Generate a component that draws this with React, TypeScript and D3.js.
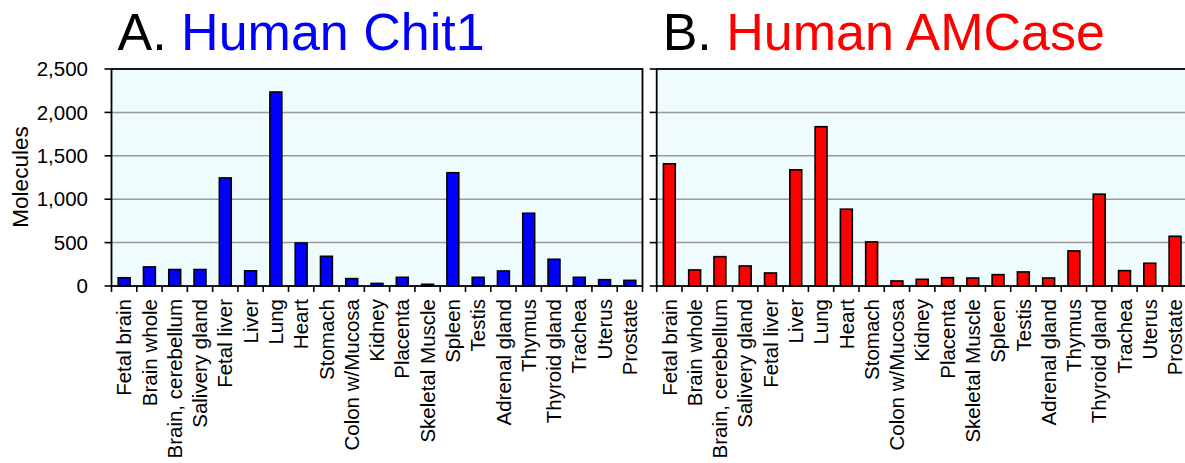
import React from "react";
import * as d3 from "d3";

const tissues = [
  "Fetal brain", "Brain whole", "Brain, cerebellum", "Salivery gland", "Fetal liver",
  "Liver", "Lung", "Heart", "Stomach", "Colon w/Mucosa", "Kidney", "Placenta",
  "Skeletal Muscle", "Spleen", "Testis", "Adrenal gland", "Thymus", "Thyroid gland",
  "Trachea", "Uterus", "Prostate",
];
const chit1Values = [95, 220, 190, 190, 1245, 175, 2235, 495, 342, 85, 30, 100, 20, 1305, 100, 173, 838, 308, 100, 73, 65];
const amcaseValues = [1408, 185, 338, 231, 150, 1338, 1835, 885, 508, 58, 77, 96, 92, 131, 162, 92, 404, 1058, 177, 262, 573];
const yTicks = [0, 500, 1000, 1500, 2000, 2500];

const FONT = "'Liberation Sans', Arial, sans-serif";
const TOP = 69;
const BOTTOM = 286;
const PANEL_W = 531;

function Panel({ x0, values, color, showLabels, prefix, title }: any) {
  const x = d3.scaleBand<string>().domain(tissues).range([x0, x0 + PANEL_W]).paddingInner(0.53).paddingOuter(0.265);
  const xb = d3.scaleBand<string>().domain(tissues).range([x0, x0 + PANEL_W]);
  const y = d3.scaleLinear().domain([0, 2500]).range([BOTTOM, TOP]);
  const fmt = d3.format(",");
  return (
    <g>
      <text x={x0 + 6} y={50} fontFamily={FONT} fontSize={52}>
        <tspan fill="#000">{prefix}</tspan>
        <tspan fill={color}>{" " + title}</tspan>
      </text>
      <rect x={x0} y={TOP} width={PANEL_W} height={BOTTOM - TOP} fill="#EFFCFD" />
      {yTicks.slice(1, -1).map((t) => (
        <line key={t} x1={x0} x2={x0 + PANEL_W} y1={y(t)} y2={y(t)} stroke="#999" strokeWidth={1.5} />
      ))}
      {tissues.map((t, i) => (
        <rect key={t} x={x(t)} y={y(values[i])} width={x.bandwidth()} height={BOTTOM - y(values[i])}
          fill={color} stroke="#000" strokeWidth={1.6} />
      ))}
      <rect x={x0} y={TOP} width={PANEL_W} height={BOTTOM - TOP} fill="none" stroke="#000" strokeWidth={1.8} />
      {yTicks.map((t) => (
        <g key={t}>
          <line x1={x0 - 7} x2={x0} y1={y(t)} y2={y(t)} stroke="#000" strokeWidth={1.6} />
          {showLabels && (
            <text x={88} y={y(t)} dy="0.35em" textAnchor="end" fontFamily={FONT} fontSize={20.5} fill="#000">{fmt(t)}</text>
          )}
        </g>
      ))}
      {tissues.map((t, i) => (
        <line key={"tk" + i} x1={xb(t)} x2={xb(t)} y1={BOTTOM} y2={BOTTOM + 6} stroke="#000" strokeWidth={1.6} />
      ))}
      <line x1={x0 + PANEL_W} x2={x0 + PANEL_W} y1={BOTTOM} y2={BOTTOM + 6} stroke="#000" strokeWidth={1.6} />
      {tissues.map((t) => {
        const cx = (xb(t) as number) + xb.bandwidth() / 2;
        return (
          <text key={"lb" + t} transform={`translate(${cx},${299}) rotate(-90)`} dy="0.35em" textAnchor="end"
            fontFamily={FONT} fontSize={20.5} fill="#000">{t}</text>
        );
      })}
    </g>
  );
}

export default function App() {
  return (
    <svg width={1185} height={463} style={{ position: "absolute", left: 0, top: 0, background: "#fff" }}>
      <rect width={1185} height={463} fill="#fff" />
      <text transform={`translate(28,177) rotate(-90)`} textAnchor="middle" fontFamily={FONT} fontSize={22.5} fill="#000">Molecules</text>
      <Panel x0={111.5} values={chit1Values} color="#0000FF" showLabels={true} prefix="A." title="Human Chit1" />
      <Panel x0={656.7} values={amcaseValues} color="#FF0000" showLabels={false} prefix="B." title="Human AMCase" />
    </svg>
  );
}
